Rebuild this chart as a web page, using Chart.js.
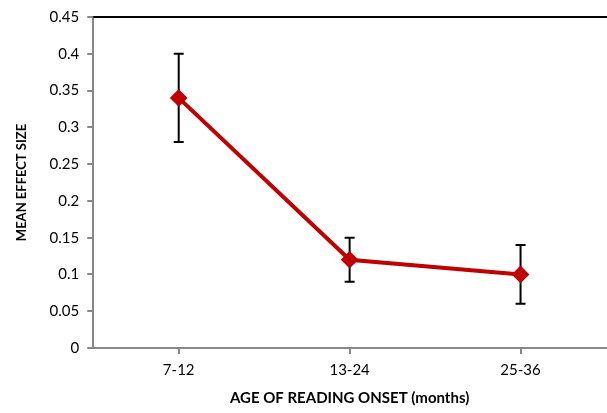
<!DOCTYPE html>
<html>
<head>
<meta charset="utf-8">
<script src="https://cdn.jsdelivr.net/npm/chart.js@4"></script>
<style>
  html, body { margin: 0; padding: 0; background: #fff; overflow: hidden; }
  #wrap { width: 616px; height: 413px; }
</style>
</head>
<body>
<div id="wrap"><canvas id="chart"></canvas></div>
<script>
// data
const ageGroups = ['7-12', '13-24', '25-36'];
const meanEffect = [0.34, 0.12, 0.10];
const errLow = [0.28, 0.09, 0.06];
const errHigh = [0.40, 0.15, 0.14];

const FONT = "Lato, 'Open Sans', sans-serif";

// draws the black top line and the error bars
const errorBars = {
    id: 'errorBars',
    beforeDatasetsDraw(chart) {
        const ctx = chart.ctx;
        const x = chart.scales.x;
        const y = chart.scales.y;
        ctx.save();
        ctx.strokeStyle = '#000';
        ctx.lineWidth = 2;
        // top border
        const top = y.getPixelForValue(0.45);
        ctx.beginPath();
        ctx.moveTo(chart.chartArea.left, top);
        ctx.lineTo(chart.width, top);
        ctx.stroke();

        for (let i = 0; i < ageGroups.length; i++) {
            const px = x.getPixelForValue(i);
            const yLo = y.getPixelForValue(errLow[i]);
            const yHi = y.getPixelForValue(errHigh[i]);
            ctx.beginPath();
            ctx.moveTo(px, yLo);
            ctx.lineTo(px, yHi);
            ctx.moveTo(px - 5, yLo);
            ctx.lineTo(px + 5, yLo);
            ctx.moveTo(px - 5, yHi);
            ctx.lineTo(px + 5, yHi);
            ctx.stroke();
        }
        ctx.restore();
    }
};

const chart = new Chart(document.querySelector('#chart'), {
    type: 'line',
    data: {
        labels: ageGroups,
        datasets: [{
            data: meanEffect,
            borderColor: '#c00000',
            backgroundColor: '#c00000',
            borderWidth: 4,
            pointStyle: 'rectRot',
            pointRadius: 6,
            pointHoverRadius: 6,
            tension: 0
        }]
    },
    options: {
        responsive: true,
        maintainAspectRatio: false,
        animation: false,
        layout: { padding: { top: 2, right: 0, left: 10, bottom: 2 } },
        plugins: {
            legend: { display: false },
            tooltip: { enabled: false }
        },
        scales: {
            x: {
                offset: true,
                border: { color: '#878787', width: 2 },
                grid: { drawOnChartArea: false, color: '#878787', tickLength: 6, lineWidth: 2 },
                ticks: { color: '#000', font: { family: FONT, size: 15 }, padding: 7 },
                title: {
                    display: true,
                    text: 'AGE OF READING ONSET (months)',
                    color: '#000',
                    font: { family: FONT, size: 15, weight: 'bold' },
                    padding: { top: 3 }
                }
            },
            y: {
                min: 0,
                max: 0.45,
                border: { color: '#878787', width: 2 },
                grid: { drawOnChartArea: false, color: '#878787', tickLength: 6, lineWidth: 2 },
                ticks: {
                    stepSize: 0.05,
                    color: '#000',
                    font: { family: FONT, size: 15 },
                    padding: 8,
                    callback: v => String(Math.round(v * 100) / 100)
                },
                title: {
                    display: true,
                    text: 'MEAN EFFECT SIZE',
                    color: '#000',
                    font: { family: FONT, size: 13, weight: 'bold' },
                    padding: { bottom: 12 }
                }
            }
        }
    },
    plugins: [errorBars]
});
</script>
</body>
</html>
